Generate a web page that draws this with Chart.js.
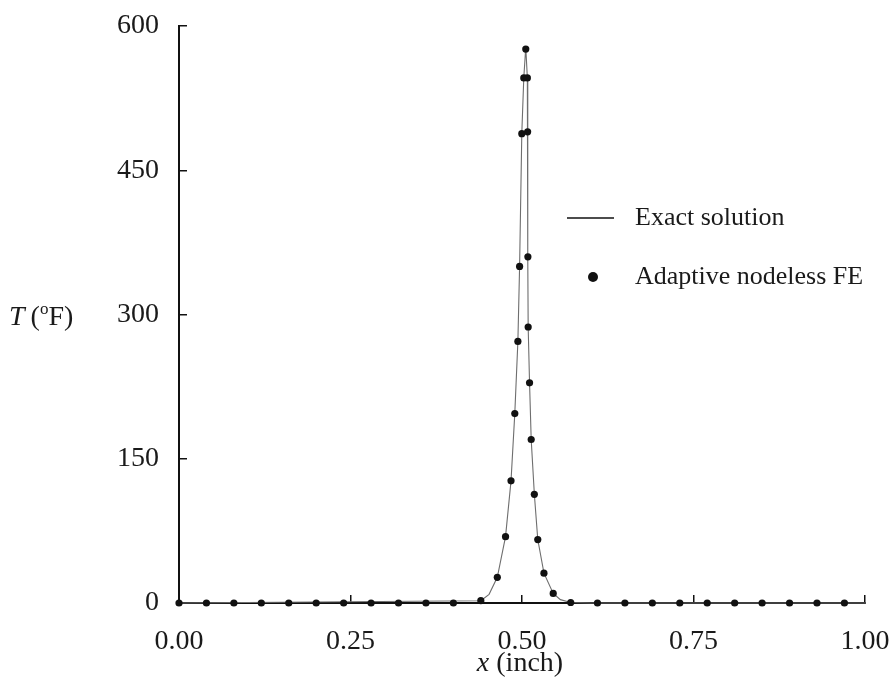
<!DOCTYPE html>
<html><head><meta charset="utf-8">
<script src="https://cdn.jsdelivr.net/npm/chart.js@4"></script>
<style>html,body{margin:0;padding:0;background:#fff}#wrap{width:894px;height:695px}</style>
</head><body><div id="wrap"><canvas id="c" width="894" height="695"></canvas></div>
<script>
// ---- data ----
const xExact = [0, 0.44, 0.452, 0.464, 0.476, 0.484, 0.4895, 0.494, 0.4965, 0.4997, 0.5026, 0.5055, 0.5078, 0.5082, 0.5086, 0.509, 0.511, 0.5134, 0.518, 0.523, 0.532, 0.5455, 0.556, 0.571, 0.6, 1.0];
const tExact = [0, 2.4, 9, 26.7, 69, 127, 197, 272, 350, 488, 546, 578, 546, 490, 360, 287, 229, 170, 113, 66, 31, 10, 3.5, 0.5, 0, 0];
const xFE = [0, 0.04, 0.08, 0.12, 0.16, 0.20, 0.24, 0.28, 0.32, 0.36, 0.40, 0.44, 0.464, 0.476, 0.484, 0.4895, 0.494, 0.4965, 0.4997, 0.5026, 0.5055, 0.5078, 0.5082, 0.5086, 0.509, 0.511, 0.5134, 0.518, 0.523, 0.532, 0.5455, 0.571, 0.61, 0.65, 0.69, 0.73, 0.77, 0.81, 0.85, 0.89, 0.93, 0.97];
const tFE = [0, 0, 0, 0, 0, 0, 0, 0, 0, 0, 0, 2.4, 26.7, 69, 127, 197, 272, 350, 488, 546, 576, 546, 490, 360, 287, 229, 170, 113, 66, 31, 10, 0.5, 0, 0, 0, 0, 0, 0, 0, 0, 0, 0];
const xTicks = [0, 0.25, 0.5, 0.75, 1.0];
const yTicks = [0, 150, 300, 450, 600];
const seriesNames = ['Exact solution', 'Adaptive nodeless FE'];
const xTitleVar = 'x', xTitleUnit = ' (inch)';
const yTitleVar = 'T', yTitleUnit = ['(', 'o', 'F)'];

const SERIF = '"Liberation Serif", "DejaVu Serif", serif';
const TXT = '#1a1a1a';

const overlay = {
  id: 'overlay',
  afterDraw(chart) {
    const ctx = chart.ctx, xs = chart.scales.x, ys = chart.scales.y;
    ctx.save();
    ctx.fillStyle = TXT;
    ctx.textBaseline = 'alphabetic';
    ctx.textAlign = 'left';
    // y-axis title, horizontal, level with the 300 tick
    const yb = ys.getPixelForValue(300) + 10;
    let x0 = 9;
    ctx.font = 'italic 28px ' + SERIF;
    ctx.fillText(yTitleVar, x0, yb); x0 += ctx.measureText(yTitleVar).width + 6;
    ctx.font = '28px ' + SERIF;
    ctx.fillText(yTitleUnit[0], x0, yb); x0 += ctx.measureText(yTitleUnit[0]).width;
    ctx.font = '17px ' + SERIF;
    ctx.fillText(yTitleUnit[1], x0, yb - 11); x0 += ctx.measureText(yTitleUnit[1]).width;
    ctx.font = '28px ' + SERIF;
    ctx.fillText(yTitleUnit[2], x0, yb);
    // x-axis title
    ctx.font = 'italic 28px ' + SERIF;
    const w1 = ctx.measureText(xTitleVar).width;
    ctx.font = '28px ' + SERIF;
    const w2 = ctx.measureText(xTitleUnit).width;
    const cx = (xs.left + xs.right) / 2 - 2;
    let sx = cx - (w1 + w2) / 2;
    const xb = 671;
    ctx.font = 'italic 28px ' + SERIF;
    ctx.fillText(xTitleVar, sx, xb);
    ctx.font = '28px ' + SERIF;
    ctx.fillText(xTitleUnit, sx + w1, xb);
    // legend
    const ds0 = chart.data.datasets[0], ds1 = chart.data.datasets[1];
    ctx.strokeStyle = '#111';
    ctx.lineWidth = 1.6;
    ctx.beginPath(); ctx.moveTo(567, 218); ctx.lineTo(614, 218); ctx.stroke();
    ctx.fillStyle = ds1.pointBackgroundColor;
    ctx.beginPath(); ctx.arc(593, 277, 5, 0, Math.PI * 2); ctx.fill();
    ctx.fillStyle = TXT;
    ctx.font = '26px ' + SERIF;
    ctx.textBaseline = 'middle';
    ctx.fillText(ds0.label, 635, 218);
    ctx.fillText(ds1.label, 635, 277);
    ctx.restore();
  }
};

const noPad = s => { s.paddingLeft = 0; s.paddingRight = 0; s.paddingTop = 0; s.paddingBottom = 0; };

new Chart(document.getElementById('c'), {
  type: 'scatter',
  data: {
    datasets: [
      {
        label: seriesNames[0],
        data: xExact.map((x, i) => ({x: x, y: tExact[i]})),
        showLine: true,
        borderColor: '#6e6e6e',
        borderWidth: 1.1,
        pointRadius: 0,
        tension: 0,
        clip: false,
        order: 2
      },
      {
        label: seriesNames[1],
        data: xFE.map((x, i) => ({x: x, y: tFE[i]})),
        showLine: false,
        pointRadius: 3.6,
        pointBackgroundColor: '#111',
        pointBorderColor: '#111',
        pointBorderWidth: 0,
        clip: false,
        order: 1
      }
    ]
  },
  options: {
    responsive: false,
    animation: false,
    devicePixelRatio: 1,
    layout: {autoPadding: false, padding: {top: 26, right: 29, left: 0, bottom: 0}},
    plugins: {legend: {display: false}, tooltip: {enabled: false}},
    scales: {
      x: {
        type: 'linear', min: 0, max: 1,
        afterBuildTicks: s => { s.ticks = xTicks.map(v => ({value: v})); },
        afterFit: s => { s.height = 92; noPad(s); },
        ticks: {callback: v => Number(v).toFixed(2), font: {family: SERIF, size: 28}, color: TXT, padding: 30, maxRotation: 0, autoSkip: false},
        grid: {drawOnChartArea: false, drawTicks: true, tickLength: -8, color: '#111', lineWidth: 1.5},
        border: {display: true, color: '#111', width: 2}
      },
      y: {
        type: 'linear', min: 0, max: 600,
        afterBuildTicks: s => { s.ticks = yTicks.map(v => ({value: v})); },
        afterFit: s => { s.width = 179; noPad(s); },
        ticks: {callback: v => String(v), font: {family: SERIF, size: 28}, color: TXT, padding: 28, autoSkip: false},
        grid: {drawOnChartArea: false, drawTicks: true, tickLength: -8, color: '#111', lineWidth: 1.5},
        border: {display: true, color: '#111', width: 2}
      }
    }
  },
  plugins: [overlay]
});
</script>
</body></html>
